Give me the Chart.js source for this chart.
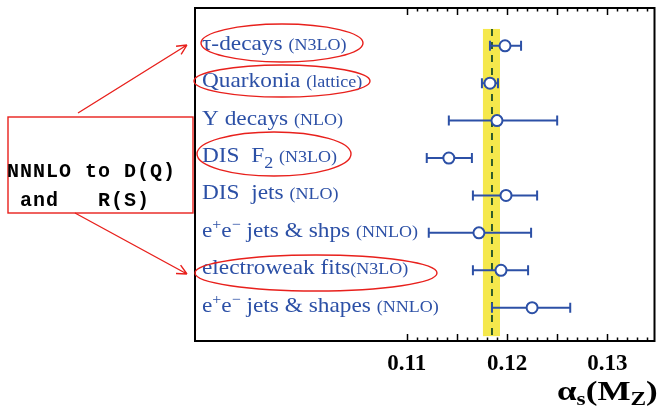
<!DOCTYPE html>
<html>
<head>
<meta charset="utf-8">
<script src="https://cdn.jsdelivr.net/npm/chart.js@4"></script>
<style>
  html, body { margin: 0; padding: 0; background: #fff; }
  #wrap { width: 662px; height: 412px; }
</style>
</head>
<body>
<div id="wrap"><canvas id="chart"></canvas></div>
<script>
// alpha_s(M_Z) determinations
const measurements = ["τ-decays ", "Quarkonia ", "Y decays ", "DIS  F_{2} ", "DIS  jets ", "e^{+}e^{−} jets & shps ", "electroweak fits", "e^{+}e^{−} jets & shapes "]
const orders = ["(N3LO)", "(lattice)", "(NLO)", "(N3LO)", "(NLO)", "(NNLO)", "(N3LO)", "(NNLO)"]
const alphaValues = [0.1198, 0.1183, 0.1190, 0.1142, 0.1199, 0.1172, 0.1194, 0.1225]
const errLow = [0.1183, 0.1175, 0.1142, 0.1120, 0.1166, 0.1122, 0.1166, 0.1185]
const errHigh = [0.1214, 0.1191, 0.1250, 0.1165, 0.1230, 0.1224, 0.1221, 0.1263]
const worldAverage = 0.1185
const worldBand = [0.1176, 0.1193]
const tickValues = [0.11, 0.12, 0.13]

const blue = "#2c50a6"
const red = "#e8201c"

const rows = measurements.map((_, i) => i)
const bandRows = [-0.45, 7.76]

// red notes drawn on top of the figure (pixel annotations, not data)
const ellipses = [
  { cx: 282, cy: 43, rx: 81, ry: 19 },
  { cx: 282, cy: 81, rx: 88, ry: 16 },
  { cx: 274, cy: 154, rx: 77, ry: 22 },
  { cx: 316, cy: 273, rx: 121, ry: 18 },
]

function drawRich(ctx, str, x, y, size, family) {
  const parts = str.split(/(\^\{[^}]*\}|_\{[^}]*\})/).filter(p => p.length)
  for (const p of parts) {
    let text = p, fs = size, dy = 0
    if (p.startsWith("^{")) { text = p.slice(2, -1); fs = 15; dy = -8 }
    else if (p.startsWith("_{")) { text = p.slice(2, -1); fs = 17; dy = 6 }
    ctx.font = fs + "px " + family
    ctx.fillText(text, x, y + dy)
    x += ctx.measureText(text).width
  }
  return x
}

function arrow(ctx, x0, y0, x1, y1) {
  ctx.beginPath()
  ctx.moveTo(x0, y0)
  ctx.lineTo(x1, y1)
  const a = Math.atan2(y1 - y0, x1 - x0)
  for (const s of [-1, 1]) {
    ctx.moveTo(x1, y1)
    ctx.lineTo(x1 - 11 * Math.cos(a + s * 0.45), y1 - 11 * Math.sin(a + s * 0.45))
  }
  ctx.stroke()
}

const bandPlugin = {
  id: "band",
  beforeDatasetsDraw(chart) {
    const { ctx, scales: { x, y } } = chart
    const x0 = x.getPixelForValue(worldBand[0])
    const x1 = x.getPixelForValue(worldBand[1])
    const y0 = y.getPixelForValue(bandRows[0])
    const y1 = y.getPixelForValue(bandRows[1])
    ctx.save()
    ctx.fillStyle = "#f5e84c"
    ctx.fillRect(x0, y0, x1 - x0, y1 - y0)
    ctx.restore()
  },
}

const framePlugin = {
  id: "frame",
  afterDatasetsDraw(chart) {
    const { ctx, chartArea: a, scales: { x } } = chart
    ctx.save()
    ctx.strokeStyle = "#000"
    ctx.lineWidth = 2
    ctx.strokeRect(a.left, a.top, a.right - a.left, a.bottom - a.top)
    ctx.lineWidth = 1.5
    ctx.beginPath()
    for (let m = 110; m <= 134; m++) {
      const px = Math.round(x.getPixelForValue(m / 1000)) + 0.5
      const len = m % 5 === 0 ? 7 : 3.5
      ctx.moveTo(px, a.bottom); ctx.lineTo(px, a.bottom - len)
      ctx.moveTo(px, a.top); ctx.lineTo(px, a.top + len)
    }
    ctx.stroke()
    ctx.restore()
  },
}

const labelPlugin = {
  id: "labels",
  afterDraw(chart) {
    const { ctx, scales: { y } } = chart
    ctx.save()
    ctx.fillStyle = blue
    ctx.textBaseline = "alphabetic"
    rows.forEach(i => {
      const py = y.getPixelForValue(i) + 4
      ctx.save()
      ctx.translate(202, py)
      ctx.scale(1.06, 1)
      const xEnd = drawRich(ctx, measurements[i], 0, 0, 22, "'Liberation Serif', serif")
      ctx.font = "17px 'Liberation Serif', serif"
      ctx.fillText(orders[i], xEnd, 0)
      ctx.restore()
    })

    // axis title alpha_s(M_Z), wide bold face
    ctx.fillStyle = "#000"
    ctx.translate(557, 400)
    ctx.scale(1.3, 1)
    let tx = 0
    const big = "bold 27px 'Liberation Serif', serif"
    const small = "bold 18px 'Liberation Serif', serif"
    for (const [t, f, dy] of [["α", big, 0], ["s", small, 5], ["(M", big, 0], ["Z", small, 5], [")", big, 0]]) {
      ctx.font = f
      ctx.fillText(t, tx, dy)
      tx += ctx.measureText(t).width
    }
    ctx.restore()

    // red annotations
    ctx.save()
    ctx.strokeStyle = red
    ctx.lineWidth = 1.4
    for (const e of ellipses) {
      ctx.beginPath()
      ctx.ellipse(e.cx, e.cy, e.rx, e.ry, 0, 0, Math.PI * 2)
      ctx.stroke()
    }
    ctx.fillStyle = "#fff"
    ctx.fillRect(8, 117, 185, 96)
    ctx.strokeRect(8, 117, 185, 96)
    arrow(ctx, 78, 113, 187, 45)
    arrow(ctx, 75, 213, 187, 274)
    ctx.fillStyle = "#000"
    ctx.font = "bold 20px 'Liberation Mono', monospace"
    ctx.letterSpacing = "1px"
    ctx.fillText("NNNLO to D(Q)", 7, 177)
    ctx.fillText(" and   R(S)", 7, 206)
    ctx.restore()
  },
}

const errorSets = rows.map(i => ({
  data: [{ x: errLow[i], y: i }, { x: errHigh[i], y: i }],
  showLine: true,
  borderColor: blue,
  borderWidth: 2,
  pointStyle: "line",
  rotation: 90,
  pointRadius: 5,
  pointBorderWidth: 2,
  pointBorderColor: blue,
}))

new Chart(document.getElementById("chart"), {
  type: "scatter",
  data: {
    datasets: [
      {
        data: rows.map(i => ({ x: alphaValues[i], y: i })),
        pointRadius: 5.5,
        pointBackgroundColor: "#fff",
        pointBorderColor: blue,
        pointBorderWidth: 2,
      },
      ...errorSets,
      {
        data: bandRows.map(r => ({ x: worldAverage, y: r })),
        showLine: true,
        borderColor: "#2d5a2d",
        borderWidth: 2,
        borderDash: [7, 6],
        pointRadius: 0,
      },
    ],
  },
  options: {
    responsive: true,
    maintainAspectRatio: false,
    animation: false,
    layout: { padding: { left: 195, right: 6, top: 8, bottom: 0 } },
    scales: {
      x: {
        type: "linear",
        min: 0.0889,
        max: 0.1347,
        afterBuildTicks: (s) => { s.ticks = tickValues.map(v => ({ value: v })) },
        afterFit: (s) => { s.height = 71 },
        grid: { display: false, drawTicks: false },
        border: { display: false },
        ticks: {
          color: "#000",
          padding: 9,
          maxRotation: 0,
          autoSkip: false,
          font: { family: "'Liberation Serif', serif", size: 23, weight: "bold" },
          callback: (v) => v.toFixed(2),
        },
      },
      y: {
        type: "linear",
        reverse: true,
        min: -1.01,
        max: 7.89,
        display: false,
      },
    },
    plugins: {
      legend: { display: false },
      tooltip: { enabled: false },
    },
  },
  plugins: [bandPlugin, framePlugin, labelPlugin],
})
</script>
</body>
</html>
